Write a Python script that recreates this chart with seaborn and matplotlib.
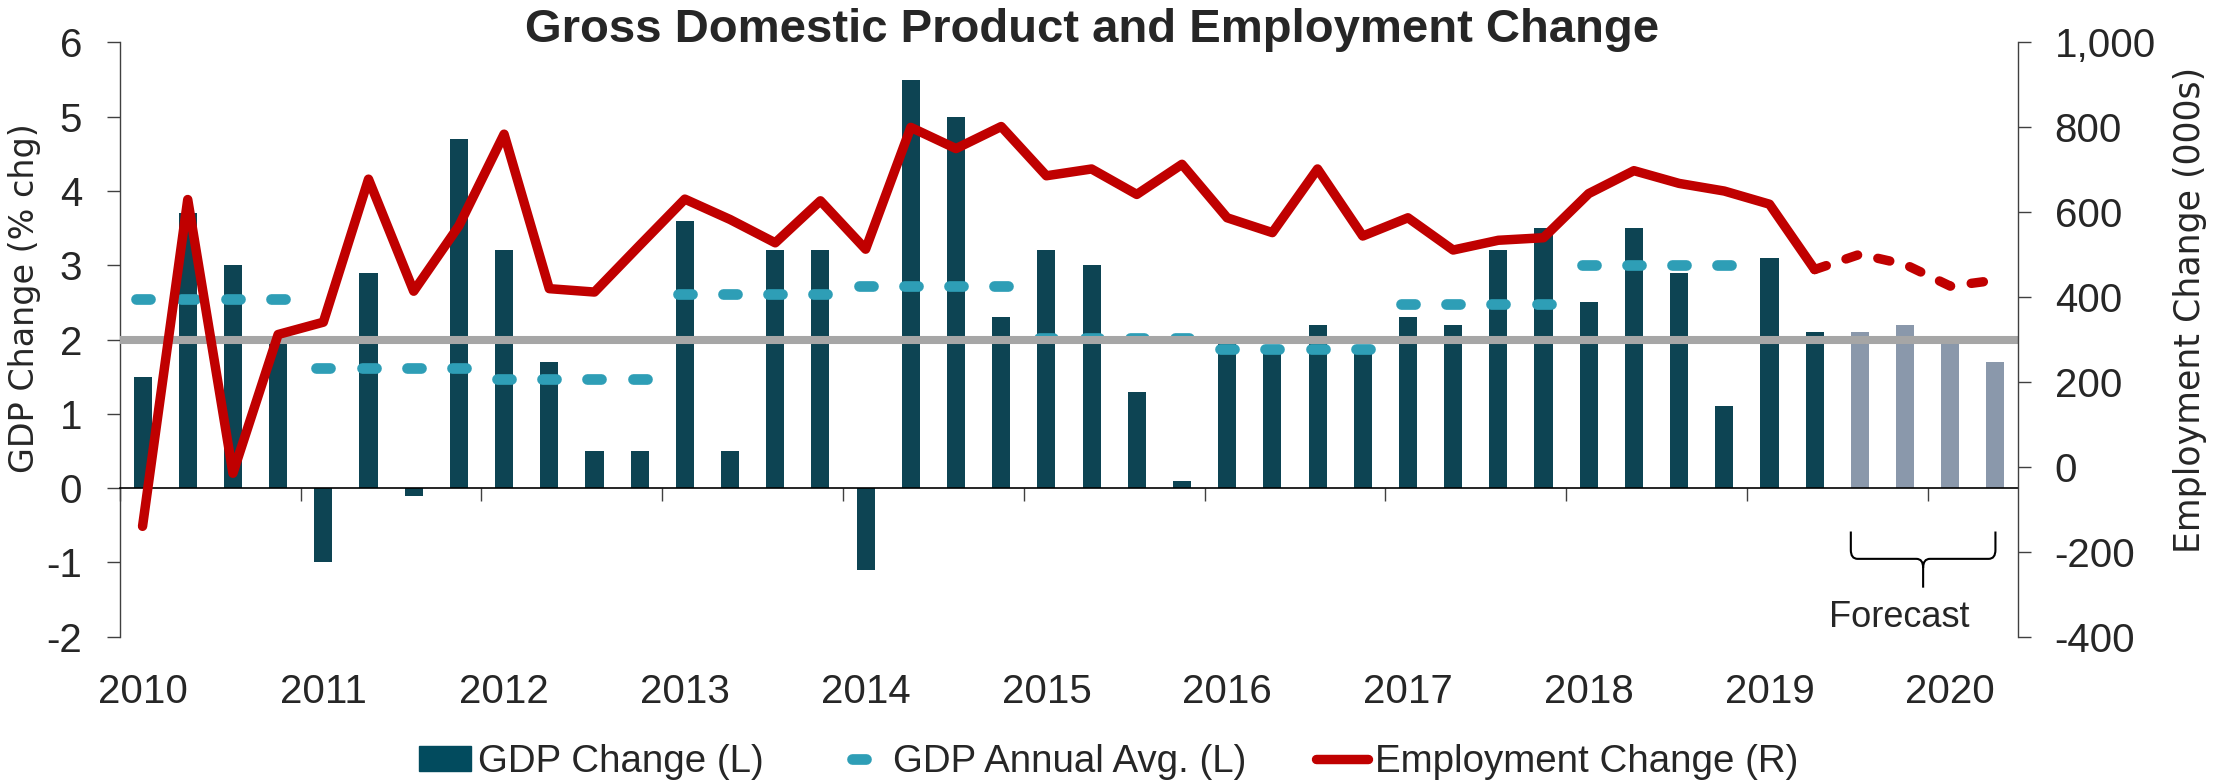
import numpy as np
import pandas as pd
import seaborn as sns
import matplotlib.pyplot as plt
from matplotlib.lines import Line2D
from matplotlib.patches import Patch, PathPatch
from matplotlib.markers import MarkerStyle
from matplotlib.path import Path
from matplotlib.transforms import blended_transform_factory

# data (2010Q1 .. 2020Q2)
years = ["2010", "2011", "2012", "2013", "2014", "2015", "2016", "2017", "2018", "2019", "2020"]
quarters = [f"{y}Q{q}" for y in years for q in (1, 2, 3, 4)][:42]
gdp = [1.5, 3.7, 3.0, 2.0, -1.0, 2.9, -0.1, 4.7,
       3.2, 1.7, 0.5, 0.5, 3.6, 0.5, 3.2, 3.2,
       -1.1, 5.5, 5.0, 2.3, 3.2, 3.0, 1.3, 0.1,
       2.0, 1.9, 2.2, 1.9, 2.3, 2.2, 3.2, 3.5,
       2.5, 3.5, 2.9, 1.1, 3.1, 2.1, 2.1, 2.2,
       2.0, 1.7]
n_actual = 38  # last actual quarter is 2019Q2
gdp_avg = [2.55, 1.62, 1.47, 2.62, 2.72, 2.02, 1.87, 2.48, 3.0]  # 2010..2018
emp = [-140, 630, -15, 312, 341, 678, 414, 568,
       784, 420, 412, 522, 631, 583, 528, 627,
       513, 800, 750, 802, 686, 702, 642, 713,
       587, 552, 702, 544, 587, 511, 534, 540,
       644, 698, 668, 650, 619, 465, 501, 477,
       426, 440]
target = 2.0

BAR = "#024B5E"
FC = "#8497B0"
AVG = "#2E9EB6"
RED = "#C00000"
GRAY = "#A6A6A6"
SPINE = "#404040"

sns.set_style("white")
plt.rcParams["font.family"] = ["Liberation Sans", "DejaVu Sans"]
plt.rcParams["axes.unicode_minus"] = False

fig = plt.figure(figsize=(22.13, 7.84), dpi=100)
ax = fig.add_axes([0.0542, 0.1879, 0.8577, 0.7579])

df = pd.DataFrame({"quarter": quarters, "gdp": gdp,
                   "kind": ["Actual"] * n_actual + ["Forecast"] * (len(gdp) - n_actual)})
sns.barplot(data=df, x="quarter", y="gdp", hue="kind",
            palette={"Actual": BAR, "Forecast": FC}, dodge=False, width=0.4,
            errorbar=None, legend=False, linewidth=0, ax=ax, zorder=2)

idx = np.arange(len(gdp))
avg_x = idx[:4 * len(gdp_avg)]
avg_y = np.repeat(gdp_avg, 4)
dash_marker = MarkerStyle("_", capstyle="round")
ax.plot(avg_x, avg_y, ls="none", marker=dash_marker, ms=9.6, mew=7.7,
        color=AVG, zorder=3)
ax.axhline(target, color=GRAY, lw=5.8, zorder=4)

ax.set_ylim(-2, 6)
ax.set_yticks(range(-2, 7))
ax.set_xlim(-0.5, len(gdp) - 0.5)
ax.set_xticks(np.arange(-0.5, len(gdp) - 1, 4))
ax.set_xticklabels([])
ax.set_xlabel("")
ax.set_ylabel("")
ax.tick_params(axis="y", length=9.4, width=1, color=SPINE, pad=18, labelsize=29,
               left=True)
ax.tick_params(axis="x", length=9.4, width=1, color=SPINE, bottom=True, direction="out")
for s in ["top", "right"]:
    ax.spines[s].set_visible(False)
ax.spines["left"].set_color(SPINE)
ax.spines["left"].set_linewidth(1)
ax.spines["bottom"].set_position(("data", 0))
ax.spines["bottom"].set_color("black")
ax.spines["bottom"].set_linewidth(1.2)

sec = ax.secondary_xaxis("bottom")
sec.set_xticks(idx[::4], labels=years)
sec.tick_params(length=0, pad=26, labelsize=29)
sec.spines["bottom"].set_visible(False)

ax2 = ax.twinx()
sns.lineplot(x=idx[:n_actual], y=emp[:n_actual], ax=ax2, color=RED, lw=6.8,
             solid_joinstyle="round", solid_capstyle="round")
sns.lineplot(x=idx[n_actual - 1:], y=emp[n_actual - 1:], ax=ax2, color=RED, lw=6.8,
             linestyle=(0, (1.3, 2.2)), dash_capstyle="round")
ax2.set_ylim(-400, 1000)
ax2.set_yticks(range(-400, 1001, 200))
ax2.set_yticklabels([f"{v:,}" for v in range(-400, 1001, 200)])
ax2.tick_params(axis="y", length=9.4, width=1, color=SPINE, pad=17, labelsize=29,
                right=True)
for s in ["top", "left", "bottom"]:
    ax2.spines[s].set_visible(False)
ax2.spines["right"].set_color(SPINE)
ax2.spines["right"].set_linewidth(1)
ax2.set_ylabel("")
ax.set_xlim(-0.5, len(gdp) - 0.5)

# forecast brace
tr = blended_transform_factory(ax.transData, ax.transAxes)
x0, x1, xc = 37.8, 41.0, 39.4
yt, ym, yb, dx, dy = 0.177, 0.131, 0.0825, 0.15, 0.015
verts = [(x0, yt), (x0, ym + dy), (x0, ym), (x0 + dx, ym), (xc - dx, ym), (xc, ym),
         (xc, ym - dy), (xc, yb),
         (x1, yt), (x1, ym + dy), (x1, ym), (x1 - dx, ym), (xc + dx, ym), (xc, ym),
         (xc, ym - dy)]
codes = [Path.MOVETO, Path.LINETO, Path.CURVE3, Path.CURVE3, Path.LINETO, Path.CURVE3,
         Path.CURVE3, Path.LINETO,
         Path.MOVETO, Path.LINETO, Path.CURVE3, Path.CURVE3, Path.LINETO, Path.CURVE3,
         Path.CURVE3]
ax.add_patch(PathPatch(Path(verts, codes), transform=tr, fill=False, lw=1.5,
                       edgecolor="black", clip_on=False, zorder=5))
ax.text(38.87, 0.032, "Forecast", transform=tr, ha="center", va="center", fontsize=26)

fig.text(25 / 2213, 0.620, "GDP Change (% chg)", rotation=90, ha="center", va="center",
         fontsize=24, family="DejaVu Sans")
fig.text(2190 / 2213, 0.605, "Employment Change (000s)", rotation=90, ha="center",
         va="center", fontsize=25, family="DejaVu Sans")
fig.text(0.4935, 0.946, "Gross Domestic Product and Employment Change", ha="center",
         va="baseline", fontsize=34, fontweight="bold")

handles = [Patch(color=BAR),
           Line2D([], [], ls="none", marker=dash_marker, ms=9.6, mew=7.7, color=AVG),
           Line2D([], [], color=RED, lw=6.8)]
labels = ["GDP Change (L)", "GDP Annual Avg. (L)", "Employment Change (R)"]
fig.legend(handles, labels, loc="center", bbox_to_anchor=(0.501, 0.028), ncol=3,
           frameon=False, fontsize=27.7, handlelength=1.35, handleheight=0.62,
           handletextpad=0.2, columnspacing=1.8, borderaxespad=0, borderpad=0)

fig.savefig("out.png", dpi=100)
